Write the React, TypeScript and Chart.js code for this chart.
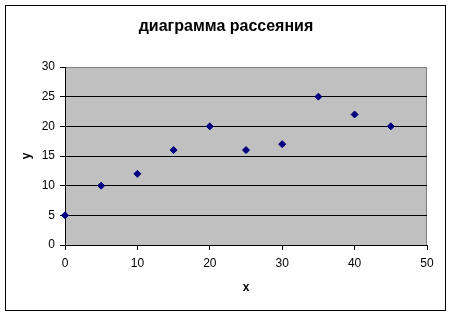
import React, { useEffect, useRef } from "react";
import { Chart, registerables } from "chart.js";

Chart.register(...registerables);

const chartTitle = "диаграмма рассеяния";
const xTitle = "x";
const yTitle = "y";
const xValues = [0, 5, 10, 15, 20, 25, 30, 35, 40, 45];
const yValues = [5, 10, 12, 16, 20, 16, 17, 25, 22, 20];

const FONT = "'Liberation Sans', Arial, sans-serif";

const framePlugin = {
  id: "framePlugin",
  beforeDraw(chart: any) {
    const { ctx, chartArea } = chart;
    ctx.save();
    ctx.fillStyle = "#ffffff";
    ctx.fillRect(0, 0, chart.width, chart.height);
    ctx.strokeStyle = "#000000";
    ctx.lineWidth = 1;
    ctx.strokeRect(5.5, 5.5, 440, 305);
    ctx.fillStyle = "#c0c0c0";
    ctx.fillRect(chartArea.left, chartArea.top, chartArea.right - chartArea.left, chartArea.bottom - chartArea.top);
    ctx.strokeStyle = "#808080";
    ctx.beginPath();
    ctx.moveTo(chartArea.left, chartArea.top + 0.5);
    ctx.lineTo(chartArea.right - 0.5, chartArea.top + 0.5);
    ctx.lineTo(chartArea.right - 0.5, chartArea.bottom);
    ctx.stroke();
    ctx.fillStyle = "#000";
    ctx.font = "bold 16px " + FONT;
    ctx.textAlign = "center";
    ctx.textBaseline = "alphabetic";
    ctx.fillText(chartTitle, chart.width / 2, 31);
    ctx.restore();
  },
};

export default function App() {
  const ref = useRef<HTMLCanvasElement>(null);
  useEffect(() => {
    if (!ref.current) return;
    const chart = new Chart(ref.current, {
      type: "scatter",
      data: {
        datasets: [
          {
            data: xValues.map((x, i) => ({ x, y: yValues[i] })),
            pointStyle: "rectRot",
            pointRadius: 3.5,
            backgroundColor: "#000080",
            borderColor: "#000080",
            borderWidth: 1,
            clip: false,
          },
        ],
      },
      options: {
        responsive: false,
        animation: false,
        layout: { padding: { left: 0, right: 25, top: 67, bottom: 0 } },
        plugins: {
          legend: { display: false },
          tooltip: { enabled: false },
          title: { display: false },
        },
        scales: {
          x: {
            type: "linear",
            min: 0,
            max: 50,
            ticks: { stepSize: 10, color: "#000", padding: 6, font: { family: FONT, size: 12 } },
            grid: { drawOnChartArea: false, drawTicks: true, tickLength: 5, color: "#000" },
            border: { color: "#000", width: 1 },
            title: {
              display: true,
              text: xTitle,
              color: "#000",
              font: { family: FONT, size: 12, weight: "bold" },
              padding: { top: 4, bottom: 21 },
            },
            afterFit: (s: any) => {
              s.height = 71;
            },
          },
          y: {
            type: "linear",
            min: 0,
            max: 30,
            ticks: { stepSize: 5, color: "#000", padding: 5, font: { family: FONT, size: 12 } },
            grid: {
              drawTicks: true,
              tickLength: 5,
              color: (c: any) => (c.tick && c.tick.value === 30 ? "#808080" : "#000"),
              tickColor: "#000",
            },
            border: { color: "#000", width: 1 },
            title: {
              display: true,
              text: yTitle,
              color: "#000",
              font: { family: FONT, size: 12, weight: "bold" },
              padding: { top: 19, bottom: 4 },
            },
            afterFit: (s: any) => {
              s.width = 65;
            },
          },
        },
      },
      plugins: [framePlugin],
    } as any);
    return () => chart.destroy();
  }, []);
  return (
    <div style={{ position: "fixed", left: 0, top: 0, width: 452, height: 316 }}>
      <canvas ref={ref} width={452} height={316} />
    </div>
  );
}
